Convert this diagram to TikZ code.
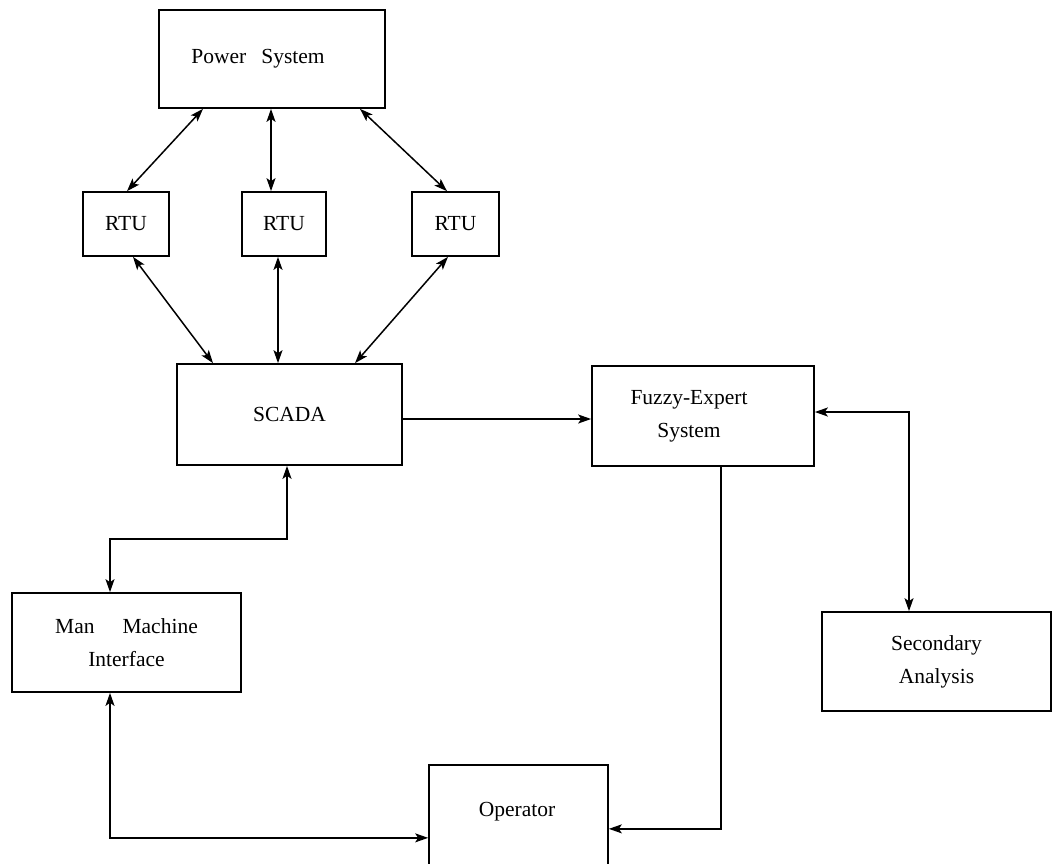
\documentclass[tikz,border=0pt]{standalone}
\usepackage{fontspec}
\setmainfont{Liberation Serif}
\usetikzlibrary{arrows.meta}
\tikzset{
  box/.style={draw, line width=1.7pt, rectangle, align=center, inner sep=0pt,
    font=\fontsize{21.5}{33}\selectfont},
  tipx/.style={},
  conn/.style={line width=1.5pt, -{Stealth[length=13pt,width=9pt,inset=3pt]}},
  bconn/.style={line width=1.5pt, {Stealth[length=13pt,width=9pt,inset=3pt]}-{Stealth[length=13pt,width=9pt,inset=3pt]}},
  lbl/.style={font=\fontsize{21.5}{33}\selectfont, inner sep=0pt}
}
\begin{document}
\begin{tikzpicture}[x=1pt,y=-1pt]
\fill[white] (0,0) rectangle (1052,863);
\clip (0,0) rectangle (1052,863);

\node[box, minimum width=226pt, minimum height=98pt] (ps) at (272,59) {Power\hspace{0.7em}System\hspace*{28pt}};
\node[box, minimum width=86pt, minimum height=64pt] (r1) at (126,224) {RTU};
\node[box, minimum width=84pt, minimum height=64pt] (r2) at (284,224) {RTU};
\node[box, minimum width=87pt, minimum height=64pt] (r3) at (455.5,224) {RTU};
\node[box, minimum width=225pt, minimum height=101pt] (scada) at (289.5,414.5) {SCADA};
\node[box, minimum width=222pt, minimum height=100pt] (fz) at (703,416) {Fuzzy-Expert\hspace*{28pt}\\System\hspace*{28pt}};
\node[box, minimum width=229pt, minimum height=99pt] (mmi) at (126.5,642.5) {Man\hspace{1.3em}Machine\\Interface};
\node[box, minimum width=229pt, minimum height=99pt] (sa) at (936.5,661.5) {Secondary\\Analysis};
\node[box, minimum width=179pt, minimum height=140pt, anchor=north] (op) at (518.5,764) {};
\node[lbl] (optext) at (517,812) {Operator};

% Power system <-> RTUs
\draw[bconn] ([xshift=-69pt]ps.south) -- ([xshift=1pt]r1.north);
\draw[bconn] ([xshift=-1pt]ps.south) -- ([xshift=-13pt]r2.north);
\draw[bconn] ([xshift=88pt]ps.south) -- ([xshift=-8.5pt]r3.north);
% RTUs <-> SCADA
\draw[bconn] ([xshift=7pt]r1.south) -- ([xshift=-76.5pt]scada.north);
\draw[bconn] ([xshift=-6pt]r2.south) -- ([xshift=-11.5pt]scada.north);
\draw[bconn] ([xshift=-7.5pt]r3.south) -- ([xshift=65.5pt]scada.north);
% SCADA -> Fuzzy
\coordinate (c1) at ([yshift=-4.5pt]scada.east);
\draw[conn] (c1) -- (c1 -| fz.west);
% Fuzzy <-> Secondary
\draw[bconn] ([yshift=4pt]fz.east) -| ([xshift=-27.5pt]sa.north);
% Fuzzy -> Operator
\draw[conn] ([xshift=18pt]fz.south) |- ([yshift=6pt]op.east);
% SCADA <-> MMI
\draw[bconn] ([xshift=-2.5pt]scada.south) -- ++(0,73) -| ([xshift=-16.5pt]mmi.north);
% MMI <-> Operator
\draw[bconn] ([xshift=-16.5pt]mmi.south) |- ([yshift=-3pt]op.west);
\end{tikzpicture}
\end{document}
